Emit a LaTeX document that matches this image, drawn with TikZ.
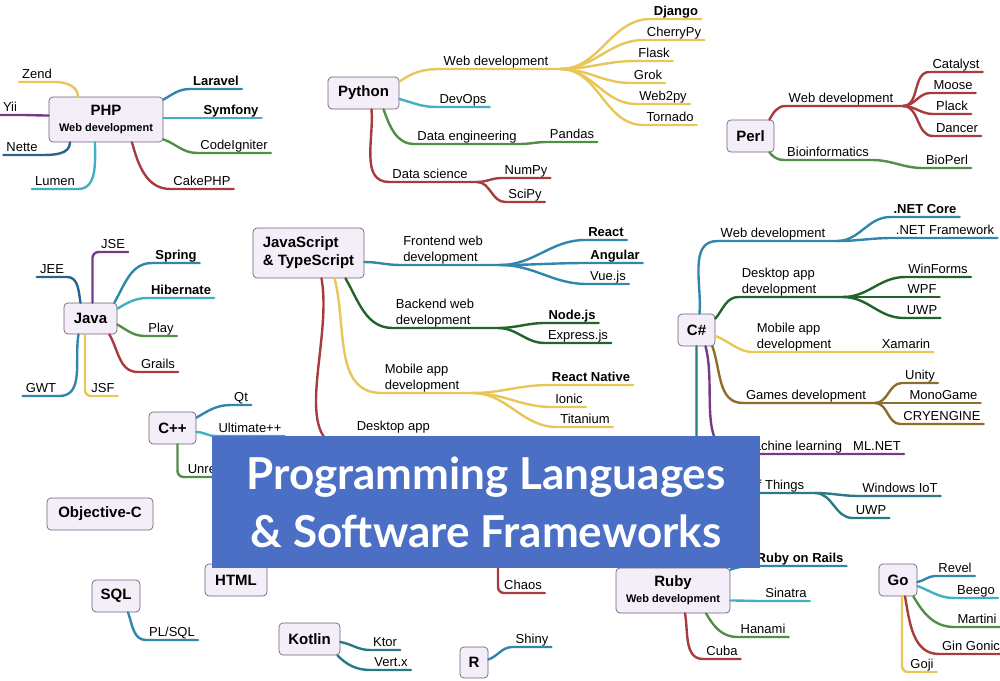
\documentclass[tikz,border=0pt]{standalone}
\usepackage{fontspec}
\setmainfont{Liberation Sans}
\newfontfamily\titlefont{Lato}
\usepackage{xcolor}

\definecolor{boxfill}{RGB}{244,238,248}
\definecolor{boxline}{RGB}{112,96,122}
\definecolor{cyellow}{RGB}{232,198,88}
\definecolor{cpurple}{RGB}{118,58,138}
\definecolor{cnavy}{RGB}{42,100,138}
\definecolor{cteal}{RGB}{66,176,196}
\definecolor{cblue}{RGB}{48,134,172}
\definecolor{cgreen}{RGB}{82,142,72}
\definecolor{cred}{RGB}{168,60,60}
\definecolor{cdkgreen}{RGB}{32,100,42}
\definecolor{colive}{RGB}{140,110,42}
\definecolor{cdkteal}{RGB}{40,122,132}
\definecolor{bannerblue}{RGB}{74,111,196}

\tikzset{
  lang/.style={draw=boxline, fill=boxfill, rounded corners=4pt, line width=0.7pt, inner sep=2pt, align=center, font=\bfseries\fontsize{15}{18}\selectfont},
  lbl/.style={anchor=south, inner xsep=3pt, inner ysep=1pt, text height=9.5pt, text depth=2.8pt, font=\fontsize{13}{16}\selectfont},
  blbl/.style={lbl, font=\bfseries\fontsize{13}{16}\selectfont},
  lbltwo/.style={anchor=south, inner xsep=3pt, inner ysep=1pt, align=left, font=\fontsize{13}{16}\selectfont},
  br/.style={draw=#1, line width=2.4pt, line cap=round},
}

\begin{document}
\begin{tikzpicture}[x=1pt, y=1pt]
  \useasboundingbox (0,0) rectangle (1000,-680);
  \clip (0,0) rectangle (1000,-680);

  % PHP
  \node[lang, minimum width=114pt, minimum height=45pt] (php) at (106,-119.5) {PHP\\[-2pt]{\fontsize{11}{13}\selectfont Web development}};
  \node[lbl] (zend) at (37,-82) {Zend};
  \node[lbl] (yii) at (10,-115) {Yii};
  \node[lbl] (nette) at (22,-155) {Nette};
  \node[lbl] (lumen) at (55,-189) {Lumen};
  \node[blbl] (laravel) at (216,-89) {Laravel};
  \node[blbl] (symfony) at (231,-118) {Symfony};
  \node[lbl] (codeigniter) at (234,-153) {CodeIgniter};
  \node[lbl] (cakephp) at (202,-189) {CakePHP};
  \draw[br=cyellow] (zend.south west) -- (zend.south east) to[out=0,in=90] ([xshift=-28pt]php.north);
  \draw[br=cpurple] (yii.south west) -- (yii.south east) to[out=0,in=180] ([yshift=4pt]php.west);
  \draw[br=cnavy] (nette.south west) -- (nette.south east) to[out=0,in=-90] ([xshift=-36pt]php.south);
  \draw[br=cteal] (lumen.south west) -- (lumen.south east) to[out=0,in=-90] ([xshift=-11pt]php.south);
  \draw[br=cblue] ([yshift=-3pt]php.north east) to[out=30,in=180] (laravel.south west) -- (laravel.south east);
  \draw[br=cteal] (php.east |- symfony.south) -- (symfony.south east);
  \draw[br=cgreen] ([yshift=3pt]php.south east) to[out=-20,in=180] (codeigniter.south west) -- (codeigniter.south east);
  \draw[br=cred] ([xshift=26pt]php.south) to[out=-75,in=180] (cakephp.south west) -- (cakephp.south east);

  % Python
  \node[lang, minimum width=71pt, minimum height=32pt] (python) at (363.5,-93) {Python};
  \node[lbl] (pyweb) at (496,-69) {Web development};
  \coordinate (pywebfan) at (560,-69);
  \node[blbl] (django) at (676,-19) {Django};
  \node[lbl] (cherrypy) at (674,-40) {CherryPy};
  \node[lbl] (flask) at (654,-61) {Flask};
  \node[lbl] (grok) at (648,-83) {Grok};
  \node[lbl] (web2py) at (663,-104) {Web2py};
  \node[lbl] (tornado) at (670,-125) {Tornado};
  \node[lbl] (devops) at (463,-107) {DevOps};
  \node[lbl] (dataeng) at (467,-144) {Data engineering};
  \node[lbl] (pandas) at (572,-142) {Pandas};
  \node[lbl] (datasci) at (430,-182) {Data science};
  \coordinate (datascifan) at (477,-182);
  \node[lbl] (numpy) at (526,-178) {NumPy};
  \node[lbl] (scipy) at (525,-202) {SciPy};
  \draw[br=cyellow] ([yshift=-5pt]python.north east) to[out=35,in=180] (pyweb.south west) -- (pywebfan);
  \draw[br=cyellow] (pywebfan) to[out=0,in=180] (django.south west) -- (django.south east);
  \draw[br=cyellow] (pywebfan) to[out=0,in=180] (cherrypy.south west) -- (cherrypy.south east);
  \draw[br=cyellow] (pywebfan) to[out=0,in=180] (flask.south west) -- (flask.south east);
  \draw[br=cyellow] (pywebfan) to[out=0,in=180] (grok.south west) -- (grok.south east);
  \draw[br=cyellow] (pywebfan) to[out=0,in=180] (web2py.south west) -- (web2py.south east);
  \draw[br=cyellow] (pywebfan) to[out=0,in=180] (tornado.south west) -- (tornado.south east);
  \draw[br=cteal] ([yshift=-6pt]python.east) to[out=-15,in=180] (devops.south west) -- (devops.south east);
  \draw[br=cgreen] ([xshift=20pt]python.south) to[out=-70,in=180] (dataeng.south west) -- (dataeng.south east) to[out=0,in=180] (pandas.south west) -- (pandas.south east);
  \draw[br=cred] ([xshift=8pt]python.south) to[out=-85,in=180] (datasci.south west) -- (datascifan);
  \draw[br=cred] (datascifan) to[out=0,in=180] (numpy.south west) -- (numpy.south east);
  \draw[br=cred] (datascifan) to[out=0,in=180] (scipy.south west) -- (scipy.south east);

  % Perl
  \node[lang, minimum width=47pt, minimum height=32pt] (perl) at (750.5,-136) {Perl};
  \node[lbl] (perlweb) at (841,-106) {Web development};
  \coordinate (perlwebfan) at (903,-106);
  \node[lbl] (catalyst) at (956,-72) {Catalyst};
  \node[lbl] (moose) at (953,-93) {Moose};
  \node[lbl] (plack) at (952,-114) {Plack};
  \node[lbl] (dancer) at (957,-136) {Dancer};
  \node[lbl] (bioinf) at (828,-160) {Bioinformatics};
  \node[lbl] (bioperl) at (947,-168) {BioPerl};
  \draw[br=cred] ([xshift=-5pt]perl.north east) to[out=60,in=180] (perlweb.south west) -- (perlwebfan);
  \draw[br=cred] (perlwebfan) to[out=0,in=180] (catalyst.south west) -- (catalyst.south east);
  \draw[br=cred] (perlwebfan) to[out=0,in=180] (moose.south west) -- (moose.south east);
  \draw[br=cred] (perlwebfan) to[out=0,in=180] (plack.south west) -- (plack.south east);
  \draw[br=cred] (perlwebfan) to[out=0,in=180] (dancer.south west) -- (dancer.south east);
  \draw[br=cgreen] ([xshift=-5pt]perl.south east) to[out=-50,in=180] (bioinf.south west) -- (bioinf.south east) to[out=0,in=180] (bioperl.south west) -- (bioperl.south east);

  % Java
  \node[lang, minimum width=53pt, minimum height=31pt] (java) at (90.5,-318.5) {Java};
  \node[lbl] (jse) at (113,-252) {JSE};
  \node[lbl] (jee) at (52,-277) {JEE};
  \node[blbl] (spring) at (176,-263) {Spring};
  \node[blbl] (hibernate) at (181,-298) {Hibernate};
  \node[lbl] (play) at (161,-336) {Play};
  \node[lbl] (grails) at (158,-372) {Grails};
  \node[lbl] (gwt) at (41,-396) {GWT};
  \node[lbl] (jsf) at (103,-396) {JSF};
  \draw[br=cpurple, rounded corners=6pt] ([xshift=2pt]java.north) |- (jse.south east);
  \draw[br=cnavy] (jee.south west) -- (jee.south east) to[out=0,in=100] ([xshift=-10pt]java.north);
  \draw[br=cblue] ([xshift=-3pt]java.north east) to[out=60,in=180] (spring.south west) -- (spring.south east);
  \draw[br=cteal] ([yshift=-6pt]java.north east) to[out=30,in=180] (hibernate.south west) -- (hibernate.south east);
  \draw[br=cgreen] ([yshift=-6pt]java.east) to[out=-30,in=180] (play.south west) -- (play.south east);
  \draw[br=cred] ([xshift=-8pt]java.south east) to[out=-60,in=180] (grails.south west) -- (grails.south east);
  \draw[br=cblue] (gwt.south west) -- (gwt.south east) to[out=0,in=-100] ([xshift=-12pt]java.south);
  \draw[br=cyellow, rounded corners=6pt] ([xshift=-5.5pt]java.south) |- (jsf.south east);

  % C++
  \node[lang, minimum width=47pt, minimum height=32pt] (cpp) at (172.5,-428) {C++};
  \node[lbl] (qt) at (241,-405) {Qt};
  \node[lbl] (ultimate) at (250,-436) {Ultimate++};
  \node[lbl] (unreal) at (229,-477) {Unreal Engine};
  \draw[br=cblue] ([yshift=-6pt]cpp.north east) to[out=30,in=180] (qt.south west) -- (qt.south east);
  \draw[br=cteal] ([yshift=-4pt]cpp.east) to[out=0,in=180] (ultimate.south west) -- (ultimate.south east);
  \draw[br=cgreen, rounded corners=6pt] ([xshift=5pt]cpp.south) |- (unreal.south east);

  % JavaScript & TypeScript
  \node[lang, minimum width=111pt, minimum height=50pt, align=left] (js) at (308.5,-253) {JavaScript\\\& TypeScript};
  \node[lbltwo] (frontend) at (443,-265) {Frontend web\\development};
  \coordinate (frontfan) at (500,-265);
  \node[blbl] (react) at (606,-240) {React};
  \node[blbl] (angular) at (615,-263) {Angular};
  \node[lbl] (vue) at (608,-284) {Vue.js};
  \node[lbltwo] (backend) at (435,-328) {Backend web\\development};
  \coordinate (backfan) at (498,-328);
  \node[blbl] (nodejs) at (572,-323) {Node.js};
  \node[lbl] (express) at (578,-343) {Express.js};
  \node[lbltwo] (mobile) at (422,-393) {Mobile app\\development};
  \coordinate (mobfan) at (472,-393);
  \node[blbl] (rnative) at (591,-385) {React Native};
  \node[lbl] (ionic) at (569,-407) {Ionic};
  \node[lbl] (titanium) at (585,-427) {Titanium};
  \node[lbltwo] (desktop) at (394,-450) {Desktop app\\development};
  \coordinate (deskfan) at (498,-450);
  \node[lbl] (chaos) at (523,-593) {Chaos};
  \draw[br=cblue] ([yshift=-9pt]js.east) to[out=0,in=180] (frontend.south west) -- (frontfan);
  \draw[br=cblue] (frontfan) to[out=0,in=180] (react.south west) -- (react.south east);
  \draw[br=cblue] (frontfan) to[out=0,in=180] (angular.south west) -- (angular.south east);
  \draw[br=cblue] (frontfan) to[out=0,in=180] (vue.south west) -- (vue.south east);
  \draw[br=cdkgreen] ([xshift=37pt]js.south) to[out=-60,in=180] (backend.south west) -- (backfan);
  \draw[br=cdkgreen] (backfan) to[out=0,in=180] (nodejs.south west) -- (nodejs.south east);
  \draw[br=cdkgreen] (backfan) to[out=0,in=180] (express.south west) -- (express.south east);
  \draw[br=cyellow] ([xshift=26pt]js.south) to[out=-75,in=180] (mobile.south west) -- (mobfan);
  \draw[br=cyellow] (mobfan) to[out=0,in=180] (rnative.south west) -- (rnative.south east);
  \draw[br=cyellow] (mobfan) to[out=0,in=180] (ionic.south west) -- (ionic.south east);
  \draw[br=cyellow] (mobfan) to[out=0,in=180] (titanium.south west) -- (titanium.south east);
  \draw[br=cred] ([xshift=13pt]js.south) to[out=-80,in=180] (desktop.south west) -- (deskfan);
  \draw[br=cred, rounded corners=6pt] (deskfan) |- (chaos.south east);

  % C#
  \node[lang, minimum width=37pt, minimum height=32pt] (csharp) at (696.5,-330) {C\#};
  \node[lbl] (csweb) at (773,-241) {Web development};
  \coordinate (cswebfan) at (837,-241);
  \node[blbl] (netcore) at (925,-217) {.NET Core};
  \node[lbl] (netfw) at (945,-238) {.NET Framework};
  \node[lbltwo] (csdesk) at (779,-297) {Desktop app\\development};
  \coordinate (csdeskfan) at (843,-297);
  \node[lbl] (winforms) at (938,-277) {WinForms};
  \node[lbl] (wpf) at (922,-297) {WPF};
  \node[lbl] (uwp) at (922,-318) {UWP};
  \node[lbltwo] (csmob) at (794,-352) {Mobile app\\development};
  \node[lbl] (xamarin) at (906,-352) {Xamarin};
  \node[lbl] (csgame) at (806,-403) {Games development};
  \coordinate (csgamefan) at (875,-403);
  \node[lbl] (unity) at (920,-383) {Unity};
  \node[lbl] (monogame) at (943.5,-403) {MonoGame};
  \node[lbl] (cryengine) at (942,-424) {CRYENGINE};
  \node[lbl] (csml) at (792.5,-454) {Machine learning};
  \node[lbl] (mlnet) at (877,-454) {ML.NET};
  \node[lbl] (csiot) at (753.5,-493) {Internet of Things};
  \coordinate (csiotfan) at (815,-493);
  \node[lbl] (winiot) at (900,-496) {Windows IoT};
  \node[lbl] (uwpiot) at (871,-518) {UWP};
  \draw[br=cblue] ([xshift=3pt]csharp.north) to[out=85,in=180] (csweb.south west) -- (cswebfan);
  \draw[br=cblue] (cswebfan) to[out=0,in=180] (netcore.south west) -- (netcore.south east);
  \draw[br=cblue] (cswebfan) to[out=0,in=180] (netfw.south west) -- (netfw.south east);
  \draw[br=cdkgreen] ([yshift=-5pt]csharp.north east) to[out=50,in=180] (csdesk.south west) -- (csdeskfan);
  \draw[br=cdkgreen] (csdeskfan) to[out=0,in=180] (winforms.south west) -- (winforms.south east);
  \draw[br=cdkgreen] (csdeskfan) to[out=0,in=180] (wpf.south west) -- (wpf.south east);
  \draw[br=cdkgreen] (csdeskfan) to[out=0,in=180] (uwp.south west) -- (uwp.south east);
  \draw[br=cyellow] ([yshift=-6pt]csharp.east) to[out=-20,in=180] (csmob.south west) -- (csmob.south east) -- (xamarin.south west) -- (xamarin.south east);
  \draw[br=colive] ([xshift=-3pt]csharp.south east) to[out=-70,in=180] (csgame.south west) -- (csgamefan);
  \draw[br=colive] (csgamefan) to[out=0,in=180] (unity.south west) -- (unity.south east);
  \draw[br=colive] (csgamefan) to[out=0,in=180] (monogame.south west) -- (monogame.south east);
  \draw[br=colive] (csgamefan) to[out=0,in=180] (cryengine.south west) -- (cryengine.south east);
  \draw[br=cpurple] ([xshift=9pt]csharp.south) to[out=-75,in=180] (csml.south west) -- (csml.south east) -- (mlnet.south west) -- (mlnet.south east);
  \draw[br=cdkteal, rounded corners=6pt] (csharp.south) |- (csiot.south west) -- (csiotfan);
  \draw[br=cdkteal] (csiotfan) to[out=0,in=180] (winiot.south west) -- (winiot.south east);
  \draw[br=cdkteal] (csiotfan) to[out=0,in=180] (uwpiot.south west) -- (uwpiot.south east);

  % lone boxes, SQL, Kotlin, R
  \node[lang, minimum width=106pt, minimum height=32pt] (objc) at (100,-514) {Objective-C};
  \node[lang, minimum width=48pt, minimum height=32pt] (sql) at (116,-596) {SQL};
  \node[lbl] (plsql) at (172,-640) {PL/SQL};
  \draw[br=cblue] ([xshift=12pt]sql.south) to[out=-70,in=180] (plsql.south west) -- (plsql.south east);
  \node[lang, minimum width=62pt, minimum height=32pt] (html) at (236,-580) {HTML};
  \node[lang, minimum width=61pt, minimum height=32pt] (kotlin) at (309.5,-639) {Kotlin};
  \node[lbl] (ktor) at (385,-650) {Ktor};
  \node[lbl] (vertx) at (391,-670) {Vert.x};
  \draw[br=cdkteal] ([yshift=-3pt]kotlin.east) to[out=-10,in=180] (ktor.south west) -- (ktor.south east);
  \draw[br=cdkteal] ([xshift=-3pt]kotlin.south east) to[out=-45,in=180] (vertx.south west) -- (vertx.south east);
  \node[lang, minimum width=28pt, minimum height=31pt] (rlang) at (474,-662.5) {R};
  \node[lbl] (shiny) at (532,-647) {Shiny};
  \draw[br=cblue] ([yshift=3pt]rlang.east) to[out=20,in=180] (shiny.south west) -- (shiny.south east);

  % Ruby
  \node[lang, minimum width=114pt, minimum height=45pt] (ruby) at (673,-590.5) {Ruby\\[-2pt]{\fontsize{11}{13}\selectfont Web development}};
  \node[blbl] (rails) at (800,-566) {Ruby on Rails};
  \node[lbl] (sinatra) at (786,-601) {Sinatra};
  \node[lbl] (hanami) at (763,-637) {Hanami};
  \node[lbl] (cuba) at (722,-659) {Cuba};
  \draw[br=cblue] ([yshift=-2pt]ruby.north east) to[out=20,in=180] (rails.south west) -- (rails.south east);
  \draw[br=cteal] ([yshift=-10pt]ruby.east) to[out=0,in=180] (sinatra.south west) -- (sinatra.south east);
  \draw[br=cgreen] ([xshift=33pt]ruby.south) to[out=-60,in=180] (hanami.south west) -- (hanami.south east);
  \draw[br=cred] ([xshift=12pt]ruby.south) to[out=-80,in=180] (cuba.south west) -- (cuba.south east);

  % Go
  \node[lang, minimum width=38pt, minimum height=32pt] (golang) at (898,-580) {Go};
  \node[lbl] (revel) at (955,-576) {Revel};
  \node[lbl] (beego) at (976,-598) {Beego};
  \node[lbl] (martini) at (977,-627) {Martini};
  \node[lbl] (gingonic) at (971,-654) {Gin Gonic};
  \node[lbl] (goji) at (922,-672) {Goji};
  \draw[br=cblue] ([yshift=-2pt]golang.east) to[out=10,in=180] (revel.south west) -- (revel.south east);
  \draw[br=cteal] ([yshift=-6pt]golang.east) to[out=-20,in=180] (beego.south west) -- (beego.south east);
  \draw[br=cgreen] ([xshift=-4pt]golang.south east) to[out=-60,in=180] (martini.south west) -- (martini.south east);
  \draw[br=cred] ([xshift=7pt]golang.south) to[out=-80,in=180] (gingonic.south west) -- (gingonic.south east);
  \draw[br=cyellow, rounded corners=6pt] ([xshift=4pt]golang.south) |- (goji.south east);

  % title banner on top
  \node[fill=bannerblue, minimum width=548pt, minimum height=132pt, inner sep=0pt, text=white, align=center,
        font=\titlefont\bfseries\fontsize{44}{58}\selectfont] (title) at (486,-502) {Programming Languages\\\& Software Frameworks};
\end{tikzpicture}
\end{document}
